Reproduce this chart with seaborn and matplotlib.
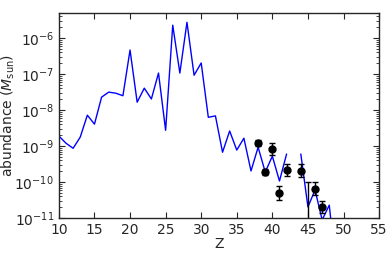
import numpy as np
import pandas as pd
import seaborn as sns
import matplotlib
matplotlib.use("Agg")
import matplotlib.pyplot as plt

# model abundances (log10 of M_sun), NaN = gap in the line
z_model = list(range(10, 50))
log_model = [-8.72, -8.92, -9.06, -8.75, -8.14, -8.39, -7.64, -7.50, -7.53, -7.60,
             -6.33, -7.78, -7.39, -7.69, -6.97, -8.56, -5.64, -6.97, -5.56, -7.03,
             -6.69, -8.20, -8.16, -9.17, -8.58, -9.11, -8.78, -9.69, -9.03, -9.72,
             -9.28, -9.97, -9.22, np.nan, -9.22, -10.69, -10.22, -11.05, -10.64, -12.5]

# observed points with errors (dex)
z_obs = [38, 39, 40, 41, 42, 44, 45, 46, 47]
log_obs = [-8.92, -9.72, -9.08, -10.30, -9.67, -9.69, -11.30, -10.19, -10.69]
err_obs = [0.08, 0.09, 0.16, 0.19, 0.16, 0.18, 1.30, 0.18, 0.16]

sns.set_style("ticks", {"xtick.direction": "in", "ytick.direction": "in"})
plt.rcParams['font.family'] = ['DejaVu Sans']
plt.rcParams['mathtext.fontset'] = 'dejavusans'

df = pd.DataFrame({'Z': z_model, 'abund': 10 ** np.array(log_model)})
df['seg'] = np.cumsum(np.isnan(df['abund']))
df = df.dropna()

fig, ax = plt.subplots(figsize=(3.9, 2.65), dpi=100)
fig.subplots_adjust(left=0.151, right=0.972, top=0.951, bottom=0.177)

sns.lineplot(data=df, x='Z', y='abund', units='seg', estimator=None,
             color='#0000ff', linewidth=1.0, ax=ax, legend=False)

lo = np.array(log_obs)
er = np.array(err_obs)
vals = 10 ** lo
yerr = [vals - 10 ** (lo - er), 10 ** (lo + er) - vals]
ax.errorbar(z_obs, vals, yerr=yerr, fmt='o', color='black', ms=5,
            capsize=2.5, elinewidth=1.0, capthick=1.0)

ax.set_yscale('log')
ax.set_xlim(10, 55)
ax.set_ylim(1e-11, 5e-6)
ax.set_xticks(range(10, 56, 5))
ax.tick_params(which='both', top=True, right=True, direction='in', labelsize=10)
ax.tick_params(which='major', length=4)
ax.tick_params(which='minor', length=2)
ax.set_xlabel('Z', fontsize=10, labelpad=0)
ax.set_ylabel(r'abundance ($M_{\rm sun}$)', fontsize=10)
ax.yaxis.set_label_coords(-0.13, 0.5)
for s in ax.spines.values():
    s.set_linewidth(1.0)

fig.savefig('out.png', dpi=100)
